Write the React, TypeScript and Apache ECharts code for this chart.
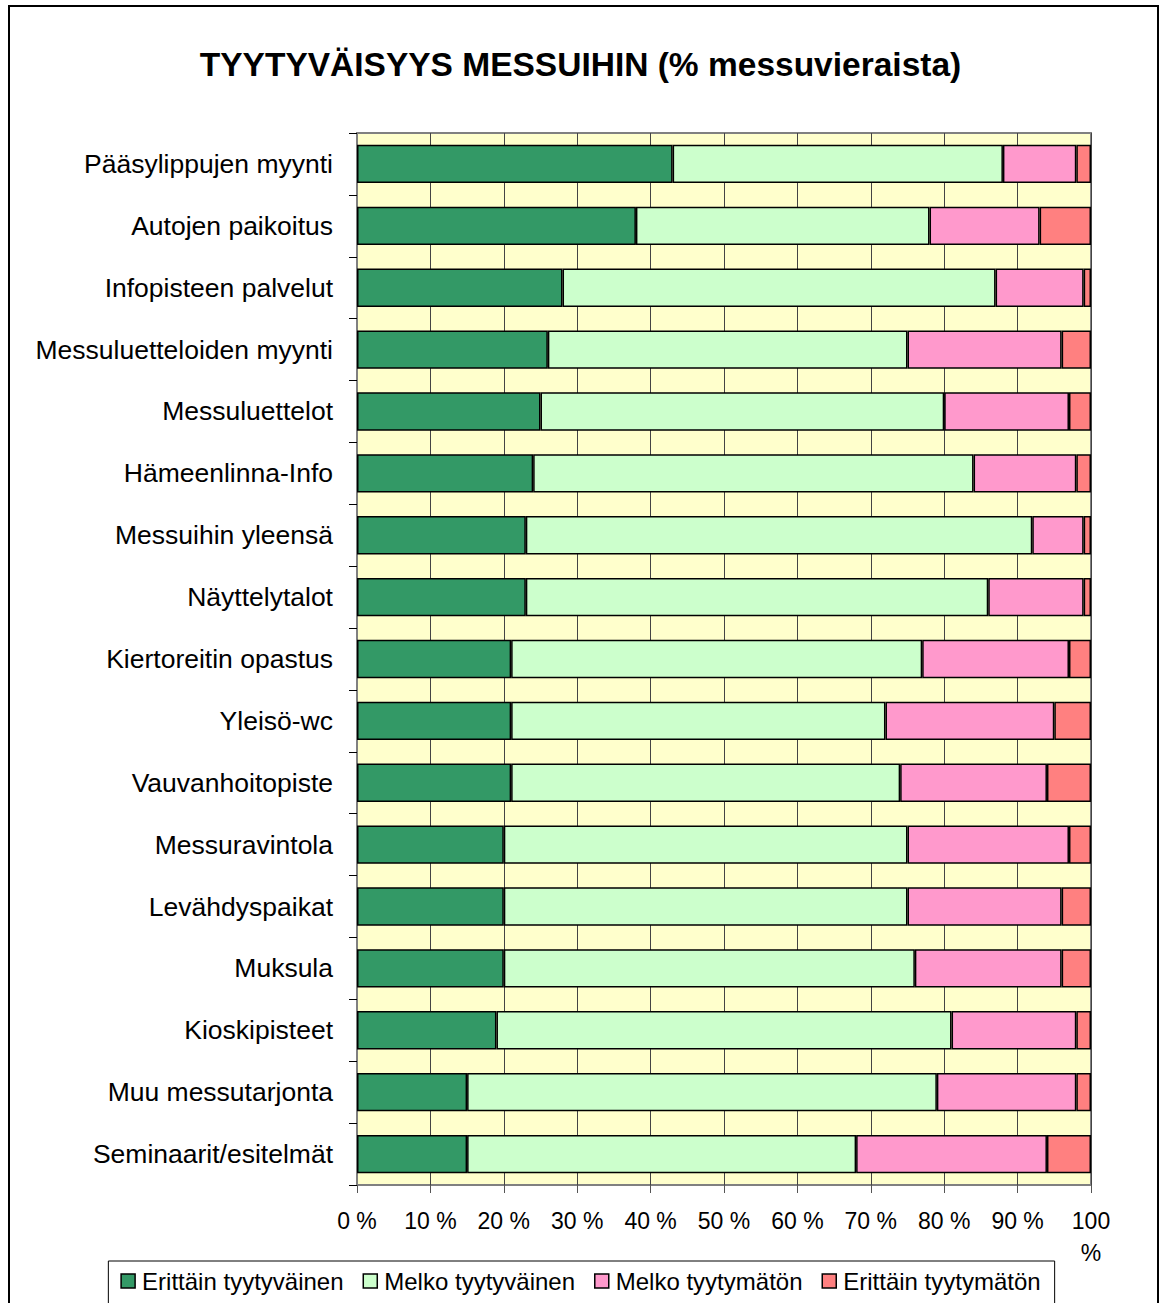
import React, { useEffect, useRef } from "react";
import * as echarts from "echarts";

const categories = [
  "Pääsylippujen myynti",
  "Autojen paikoitus",
  "Infopisteen palvelut",
  "Messuluetteloiden myynti",
  "Messuluettelot",
  "Hämeenlinna-Info",
  "Messuihin yleensä",
  "Näyttelytalot",
  "Kiertoreitin opastus",
  "Yleisö-wc",
  "Vauvanhoitopiste",
  "Messuravintola",
  "Levähdyspaikat",
  "Muksula",
  "Kioskipisteet",
  "Muu messutarjonta",
  "Seminaarit/esitelmät",
];

const seriesNames = [
  "Erittäin tyytyväinen",
  "Melko tyytyväinen",
  "Melko tyytymätön",
  "Erittäin tyytymätön",
];

const erittainTyytyvainen = [43, 38, 28, 26, 25, 24, 23, 23, 21, 21, 21, 20, 20, 20, 19, 15, 15];
const melkoTyytyvainen = [45, 40, 59, 49, 55, 60, 69, 63, 56, 51, 53, 55, 55, 56, 62, 64, 53];
const melkoTyytymaton = [10, 15, 12, 21, 17, 14, 7, 13, 20, 23, 20, 22, 21, 20, 17, 19, 26];
const erittainTyytymaton = [2, 7, 1, 4, 3, 2, 1, 1, 3, 5, 6, 3, 4, 4, 2, 2, 6];

const xTicks = [0, 10, 20, 30, 40, 50, 60, 70, 80, 90, 100];

const colors = ["#339966", "#CCFFCC", "#FF99CC", "#FF8080"];

const FONT = "'Liberation Sans', Arial, sans-serif";

export default function App() {
  const ref = useRef<HTMLDivElement>(null);

  useEffect(() => {
    if (!ref.current) return;
    const chart = echarts.init(ref.current, null, { renderer: "svg" });
    const data = [erittainTyytyvainen, melkoTyytyvainen, melkoTyytymaton, erittainTyytymaton];
    chart.setOption({
      animation: false,
      backgroundColor: "#ffffff",
      textStyle: { fontFamily: FONT, color: "#000" },
      title: {
        text: "TYYTYVÄISYYS MESSUIHIN (% messuvieraista)",
        left: "center",
        top: 42,
        textStyle: {
          fontFamily: FONT,
          fontSize: 33.5,
          fontWeight: "bold",
          color: "#000",
        },
      },
      graphic: [
        {
          type: "rect",
          shape: { x: 9, y: 6, width: 1149, height: 1320 },
          style: { fill: "none", stroke: "#000", lineWidth: 2 },
          silent: true,
        },
      ],
      legend: {
        data: seriesNames,
        left: "center",
        top: 1261,
        padding: [8, 14, 12, 12],
        borderColor: "#000",
        borderWidth: 1,
        itemWidth: 14,
        itemHeight: 14,
        itemGap: 19,
        icon: "rect",
        itemStyle: { borderColor: "#000", borderWidth: 1.5 },
        textStyle: { fontFamily: FONT, fontSize: 24, color: "#000", padding: [0, 0, 0, 2] },
      },
      grid: {
        left: 357,
        top: 133,
        width: 734,
        height: 1052,
        show: true,
        backgroundColor: "#FFFFCC",
        borderColor: "#808080",
        borderWidth: 2,
      },
      xAxis: {
        type: "value",
        min: 0,
        max: 100,
        interval: 10,
        axisLine: { show: true, lineStyle: { color: "#808080", width: 1 } },
        axisTick: { show: true, length: 8, lineStyle: { color: "#555", width: 1 } },
        splitLine: { show: true, lineStyle: { color: "#444", width: 1 } },
        axisLabel: {
          margin: 20,
          fontFamily: FONT,
          fontSize: 23,
          color: "#000",
          lineHeight: 32,
          formatter: (v: number) => (v === 100 ? "100\n%" : v + " %"),
          customValues: xTicks,
        },
      },
      yAxis: {
        type: "category",
        data: categories,
        inverse: true,
        axisLine: { show: true, lineStyle: { color: "#808080", width: 2 } },
        axisTick: { show: true, length: 8, lineStyle: { color: "#000", width: 1 } },
        splitLine: { show: false },
        axisLabel: {
          margin: 24,
          fontFamily: FONT,
          fontSize: 26.5,
          color: "#000",
        },
      },
      series: seriesNames.map((name, i) => ({
        name,
        type: "bar",
        stack: "total",
        barWidth: "62%",
        data: data[i],
        itemStyle: { color: colors[i], borderColor: "#000", borderWidth: 1.5 },
      })),
    });
    return () => chart.dispose();
  }, []);

  return (
    <div
      ref={ref}
      style={{ position: "fixed", left: 0, top: 0, width: 1161, height: 1303, background: "#fff" }}
    />
  );
}
